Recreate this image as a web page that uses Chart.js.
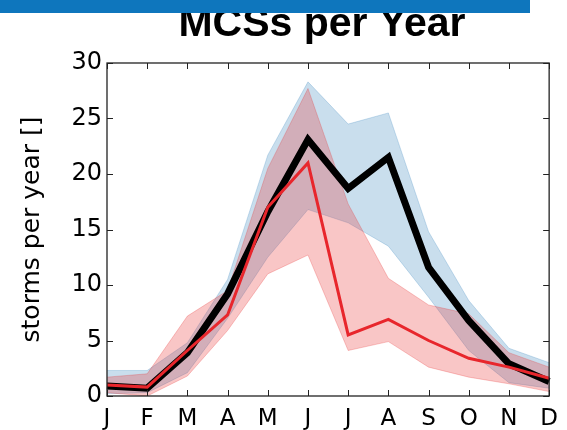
<!DOCTYPE html>
<html>
<head>
<meta charset="utf-8">
<script src="https://cdn.jsdelivr.net/npm/chart.js@4.4.1/dist/chart.umd.min.js"></script>
<style>
html,body{margin:0;padding:0;background:#fff;}
#wrap{width:567px;height:430px;position:relative;}
</style>
</head>
<body>
<div id="wrap"><canvas id="c" width="567" height="430"></canvas></div>
<script>
const months = ['J','F','M','A','M','J','J','A','S','O','N','D'];
const allMean  = [0.9, 0.7, 3.9, 9.2, 16.6, 23.1, 18.7, 21.5, 11.6, 6.8, 2.9, 1.3];
const allUpper = [2.3, 2.3, 4.8, 10.5, 21.7, 28.3, 24.5, 25.5, 14.8, 8.6, 4.3, 3.0];
const allLower = [0.2, 0.3, 2.1, 7.0, 12.5, 16.8, 15.6, 13.5, 8.9, 4.1, 1.2, 0.7];
const redMean  = [1.0, 0.8, 4.1, 7.3, 17.0, 21.0, 5.5, 6.9, 5.0, 3.4, 2.6, 1.6];
const redUpper = [1.7, 2.0, 7.2, 9.5, 20.5, 27.7, 17.3, 10.6, 8.2, 7.4, 3.9, 2.6];
const redLower = [0.3, 0.0, 1.8, 5.9, 11.0, 12.7, 4.1, 4.9, 2.6, 1.7, 1.1, 0.4];
const yTicks = [0, 5, 10, 15, 20, 25, 30];
const titleText = 'MCSs per Year';
const yLabel = 'storms per year []';

const BLUE_FILL = 'rgba(31,119,180,0.24)';
const BLUE_EDGE = 'rgba(31,119,180,0.22)';
const RED_FILL = 'rgba(232,45,45,0.27)';
const RED_EDGE = 'rgba(232,45,45,0.25)';

const decor = {
  id: 'decor',
  afterDraw(chart) {
    const ctx = chart.ctx;
    const a = chart.chartArea;
    const xs = chart.scales.x, ys = chart.scales.y;
    ctx.save();
    // frame
    ctx.strokeStyle = '#222';
    ctx.lineWidth = 1.3;
    ctx.strokeRect(a.left, a.top, a.right - a.left, a.bottom - a.top);
    // inward ticks
    ctx.lineWidth = 1;
    ctx.beginPath();
    months.forEach((m, i) => {
      const x = Math.round(xs.getPixelForValue(i)) + 0.5;
      ctx.moveTo(x, a.bottom); ctx.lineTo(x, a.bottom - 6);
      ctx.moveTo(x, a.top); ctx.lineTo(x, a.top + 6);
    });
    yTicks.forEach(v => {
      const y = Math.round(ys.getPixelForValue(v)) + 0.5;
      ctx.moveTo(a.left, y); ctx.lineTo(a.left + 6, y);
      ctx.moveTo(a.right, y); ctx.lineTo(a.right - 6, y);
    });
    ctx.stroke();
    // y axis label
    ctx.fillStyle = '#000';
    ctx.font = '25px "DejaVu Sans"';
    ctx.textAlign = 'center';
    ctx.textBaseline = 'middle';
    ctx.translate(32, (a.top + a.bottom) / 2);
    ctx.rotate(-Math.PI / 2);
    ctx.fillText(yLabel, 0, 0);
    ctx.restore();
    // title
    ctx.save();
    ctx.fillStyle = '#000';
    ctx.font = 'bold 41px "Liberation Sans", Arial, sans-serif';
    ctx.textAlign = 'center';
    ctx.textBaseline = 'alphabetic';
    ctx.fillText(titleText, 322, 36);
    // top blue bar
    ctx.fillStyle = '#0e76bd';
    ctx.fillRect(0, 0, 530, 13);
    ctx.restore();
  }
};

new Chart(document.getElementById('c'), {
  type: 'line',
  data: {
    labels: months,
    datasets: [
      { data: allLower, borderColor: BLUE_EDGE, borderWidth: 1, pointRadius: 0, fill: false, order: 5, tension: 0 },
      { data: allUpper, borderColor: BLUE_EDGE, borderWidth: 1, pointRadius: 0, fill: { target: 0 }, backgroundColor: BLUE_FILL, order: 4, tension: 0 },
      { data: redLower, borderColor: RED_EDGE, borderWidth: 1, pointRadius: 0, fill: false, order: 3, tension: 0 },
      { data: redUpper, borderColor: RED_EDGE, borderWidth: 1, pointRadius: 0, fill: { target: 2 }, backgroundColor: RED_FILL, order: 2, tension: 0 },
      { data: allMean, borderColor: '#000', borderWidth: 7, pointRadius: 0, fill: false, order: 1, tension: 0, borderJoinStyle: 'miter' },
      { data: redMean, borderColor: '#e8262c', borderWidth: 3, pointRadius: 0, fill: false, order: 0, tension: 0 }
    ]
  },
  options: {
    responsive: false,
    animation: false,
    devicePixelRatio: 1,
    layout: { padding: { top: 63, right: 12, left: 0, bottom: 0 } },
    plugins: { legend: { display: false }, tooltip: { enabled: false }, title: { display: false } },
    scales: {
      x: {
        type: 'category',
        offset: false,
        grid: { display: false, drawTicks: false },
        border: { display: false },
        ticks: { color: '#000', font: { family: 'DejaVu Sans', size: 23 }, padding: 9, maxRotation: 0, autoSkip: false },
        afterFit(s) { s.height = 34; }
      },
      y: {
        min: 0, max: 30,
        grid: { display: false, drawTicks: false },
        border: { display: false },
        ticks: { stepSize: 5, color: '#000', font: { family: 'DejaVu Sans', size: 24 }, padding: 5 },
        afterFit(s) { s.width = 107; }
      }
    }
  },
  plugins: [decor]
});
</script>
</body>
</html>
